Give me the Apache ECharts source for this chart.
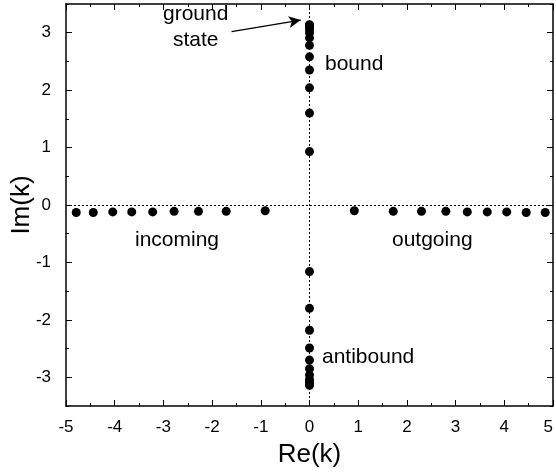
<!DOCTYPE html>
<html>
<head>
<meta charset="utf-8">
<script src="https://cdn.jsdelivr.net/npm/echarts@6/dist/echarts.min.js"></script>
<style>
  html, body { margin: 0; padding: 0; background: #fff; }
  #chart { width: 556px; height: 472px; }
</style>
</head>
<body>
<div id="chart"></div>
<script>
// poles in the complex k plane
var boundIm = [0.93, 1.60, 2.04, 2.35, 2.58, 2.78, 2.91, 3.00, 3.06, 3.10, 3.13, 3.14];
var antiboundIm = [-1.16, -1.80, -2.18, -2.49, -2.70, -2.85, -2.96, -3.04, -3.09, -3.12, -3.14];
var incomingRe = [-4.79, -4.44, -4.04, -3.65, -3.22, -2.78, -2.28, -1.71, -0.91];
var incomingIm = [-0.13, -0.13, -0.12, -0.12, -0.12, -0.11, -0.11, -0.11, -0.10];
var outgoingRe = [0.92, 1.72, 2.30, 2.80, 3.24, 3.65, 4.05, 4.45, 4.84];
var outgoingIm = [-0.10, -0.11, -0.11, -0.11, -0.12, -0.12, -0.12, -0.13, -0.13];

// tick positions
var xMajor = [-5, -4, -3, -2, -1, 0, 1, 2, 3, 4, 5];
var xMinor = [-4.5, -3.5, -2.5, -1.5, -0.5, 0.5, 1.5, 2.5, 3.5, 4.5];
var yMajor = [-3, -2, -1, 0, 1, 2, 3];
var yMinor = [-3.5, -2.5, -1.5, -0.5, 0.5, 1.5, 2.5, 3.5];

var points = [];
boundIm.forEach(function (v) { points.push([0, v]); });
antiboundIm.forEach(function (v) { points.push([0, v]); });
incomingRe.forEach(function (v, i) { points.push([v, incomingIm[i]]); });
outgoingRe.forEach(function (v, i) { points.push([v, outgoingIm[i]]); });

var font = '"Liberation Sans", Arial, sans-serif';
var black = '#000';

// one axis = frame side with long ticks, a twin with short ticks and no line
function makeAxis(type, pos, majors, minors, extra) {
  var range = type === 'x' ? { min: -5, max: 5 } : { min: -3.5, max: 3.5 };
  var main = {
    type: 'value', min: range.min, max: range.max, position: pos,
    axisLine: { show: true, onZero: false, lineStyle: { color: black, width: 1.5 } },
    axisTick: { show: true, inside: true, length: 6, customValues: majors, lineStyle: { color: black, width: 1 } },
    axisLabel: { show: false },
    splitLine: { show: false }
  };
  for (var k in extra) main[k] = extra[k];
  var twin = {
    type: 'value', min: range.min, max: range.max, position: pos,
    axisLine: { show: false, onZero: false },
    axisTick: { show: true, inside: true, length: 3, customValues: minors, lineStyle: { color: black, width: 1 } },
    axisLabel: { show: false },
    splitLine: { show: false }
  };
  return [main, twin];
}

var xAxes = []
  .concat(makeAxis('x', 'bottom', xMajor, xMinor, {
    name: 'Re(k)', nameLocation: 'middle', nameGap: 36, nameMoveOverlap: false,
    nameTextStyle: { fontFamily: font, fontSize: 26, color: black },
    axisLabel: { show: true, customValues: xMajor, margin: 13, fontFamily: font, fontSize: 17, color: black, alignMaxLabel: 'right' }
  }))
  .concat(makeAxis('x', 'top', xMajor, xMinor, {}));

var yAxes = []
  .concat(makeAxis('y', 'left', yMajor, yMinor, {
    name: 'Im(k)', nameLocation: 'middle', nameGap: 31, nameMoveOverlap: false,
    nameTextStyle: { fontFamily: font, fontSize: 26, color: black },
    axisLabel: { show: true, customValues: yMajor, margin: 15, fontFamily: font, fontSize: 17, color: black }
  }))
  .concat(makeAxis('y', 'right', yMajor, yMinor, {}));

var chart = echarts.init(document.getElementById('chart'));
chart.setOption({
  animation: false,
  backgroundColor: '#fff',
  grid: { left: 66, right: 3, top: 4, bottom: 66, containLabel: false, outerBoundsMode: 'none' },
  xAxis: xAxes,
  yAxis: yAxes,
  series: [
    {
      type: 'scatter',
      xAxisIndex: 0,
      yAxisIndex: 0,
      data: points,
      symbol: 'circle',
      symbolSize: 9,
      itemStyle: { color: black, opacity: 1 },
      z: 5,
      markLine: {
        silent: true,
        symbol: 'none',
        label: { show: false },
        lineStyle: { color: black, type: [2, 2], width: 1, opacity: 1 },
        data: [{ xAxis: 0 }, { yAxis: 0 }]
      }
    },
    {
      type: 'line',
      xAxisIndex: 0,
      yAxisIndex: 0,
      data: [],
      markLine: {
        silent: true,
        symbol: ['none', 'arrow'],
        symbolSize: [9, 12],
        label: { show: false },
        lineStyle: { color: black, type: 'solid', width: 1.3, opacity: 1 },
        data: [[{ coord: [-1.6, 3.02] }, { coord: [-0.18, 3.22] }]]
      }
    }
  ],
  graphic: [
    { type: 'text', left: 163, top: 4, style: { text: 'ground', font: '21px ' + font, fill: black } },
    { type: 'text', left: 173, top: 30, style: { text: 'state', font: '21px ' + font, fill: black } },
    { type: 'text', left: 325, top: 54, style: { text: 'bound', font: '21px ' + font, fill: black } },
    { type: 'text', left: 135, top: 230, style: { text: 'incoming', font: '21px ' + font, fill: black } },
    { type: 'text', left: 392, top: 230, style: { text: 'outgoing', font: '21px ' + font, fill: black } },
    { type: 'text', left: 322, top: 347, style: { text: 'antibound', font: '21px ' + font, fill: black } }
  ]
});
</script>
</body>
</html>
